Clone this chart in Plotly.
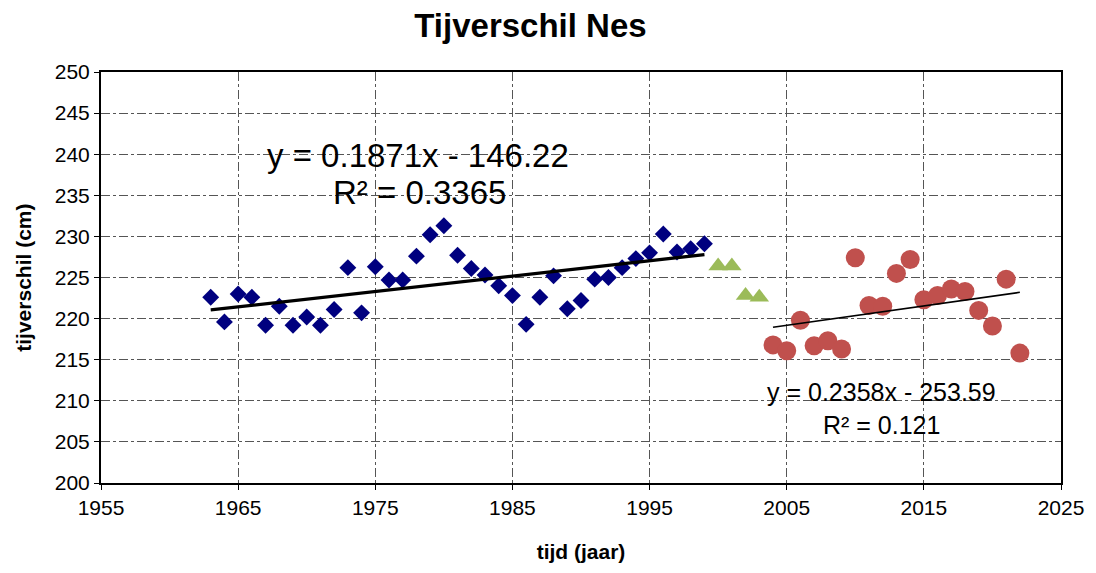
import numpy as np
import plotly.graph_objects as go

# Yearly tidal range at Nes (cm)
years_a = list(range(1963, 2000))
tide_a = [222.6, 219.6, 223.0, 222.6, 219.2, 221.5, 219.2, 220.2, 219.2, 221.1,
          226.2, 220.7, 226.3, 224.7, 224.7, 227.6, 230.2, 231.3, 227.7, 226.1,
          225.3, 224.0, 222.8, 219.3, 222.6, 225.2, 221.2, 222.2, 224.8, 225.0,
          226.2, 227.3, 228.0, 230.3, 228.1, 228.5, 229.1]

years_b = [2000, 2001, 2002, 2003]
tide_b = [226.4, 226.4, 222.8, 222.6]

years_c = list(range(2004, 2023))
tide_c = [216.8, 216.1, 219.8, 216.7, 217.3, 216.3, 227.4, 221.6, 221.5, 225.5,
          227.2, 222.3, 222.8, 223.6, 223.3, 221.0, 219.1, 224.8, 215.8]

# Linear trend coefficients (slope, intercept)
trend_a = (0.1871, -146.22)
trend_a_r2 = 0.3365
trend_c = (0.2358, -253.59)
trend_c_r2 = 0.121

x_ticks = list(range(1955, 2026, 10))
y_ticks = list(range(200, 251, 5))

fig = go.Figure()

fig.add_trace(go.Scatter(
    x=years_a, y=tide_a, mode="markers",
    marker=dict(symbol="diamond", size=13, color="#00007F"),
    showlegend=False))
fig.add_trace(go.Scatter(
    x=years_b, y=tide_b, mode="markers",
    marker=dict(symbol="triangle-up", size=17, color="#9BBB59"),
    showlegend=False))
fig.add_trace(go.Scatter(
    x=years_c, y=tide_c, mode="markers",
    marker=dict(symbol="circle", size=19, color="#C0504D"),
    showlegend=False))

# Trend lines from the fitted equations
xa = np.array([years_a[0], years_a[-1]], dtype=float)
fig.add_trace(go.Scatter(
    x=xa, y=trend_a[0] * xa + trend_a[1], mode="lines",
    line=dict(color="black", width=3.2), showlegend=False))
xc = np.array([years_c[0], years_c[-1]], dtype=float)
fig.add_trace(go.Scatter(
    x=xc, y=trend_c[0] * xc + trend_c[1], mode="lines",
    line=dict(color="black", width=1.6), showlegend=False))

font_main = "Liberation Sans, Arial, sans-serif"

fig.add_annotation(x=1978.1, y=239.9, xref="x", yref="y", showarrow=False,
                   text=f"y = {trend_a[0]}x - {abs(trend_a[1])}",
                   font=dict(size=33, color="black", family=font_main))
fig.add_annotation(x=1978.2, y=235.4, xref="x", yref="y", showarrow=False,
                   text=f"R² = {trend_a_r2}",
                   font=dict(size=33, color="black", family=font_main))
fig.add_annotation(x=2011.9, y=211.1, xref="x", yref="y", showarrow=False,
                   text=f"y = {trend_c[0]}x - {abs(trend_c[1])}",
                   font=dict(size=25, color="black", family=font_main))
fig.add_annotation(x=2011.9, y=207.1, xref="x", yref="y", showarrow=False,
                   text=f"R² = {trend_c_r2}",
                   font=dict(size=25, color="black", family=font_main))

# Vertical axis title placed in the left margin
fig.add_annotation(x=-0.081, y=0.5, xref="paper", yref="paper", showarrow=False,
                   text="<b>tijverschil (cm)</b>", textangle=-90,
                   xanchor="center", yanchor="middle",
                   font=dict(size=21, color="black", family=font_main))

fig.update_layout(
    width=1096, height=573,
    margin=dict(l=101, r=33, t=72, b=90),
    paper_bgcolor="white", plot_bgcolor="white",
    font=dict(family=font_main, color="black"),
    title=dict(text="<b>Tijverschil Nes</b>", x=0.484, xanchor="center",
               y=0.955, yanchor="middle",
               font=dict(size=33, family=font_main, color="black")),
    xaxis=dict(range=[1955, 2025], tickvals=x_ticks, ticktext=[str(v) for v in x_ticks],
               showgrid=True, gridcolor="#555555", griddash="dashdot", gridwidth=1,
               showline=True, linecolor="black", linewidth=2, mirror=True,
               ticks="outside", ticklen=5, tickcolor="black",
               tickfont=dict(size=21, family=font_main),
               zeroline=False,
               title=dict(text="<b>tijd (jaar)</b>", standoff=26,
                          font=dict(size=21, family=font_main))),
    yaxis=dict(range=[200, 250], tickvals=y_ticks, ticktext=[str(v) for v in y_ticks],
               showgrid=True, gridcolor="#555555", griddash="dashdot", gridwidth=1,
               showline=True, linecolor="black", linewidth=2, mirror=True,
               ticks="outside", ticklen=5, tickcolor="black",
               tickfont=dict(size=21, family=font_main),
               zeroline=False),
)

fig.write_html("out.html")
